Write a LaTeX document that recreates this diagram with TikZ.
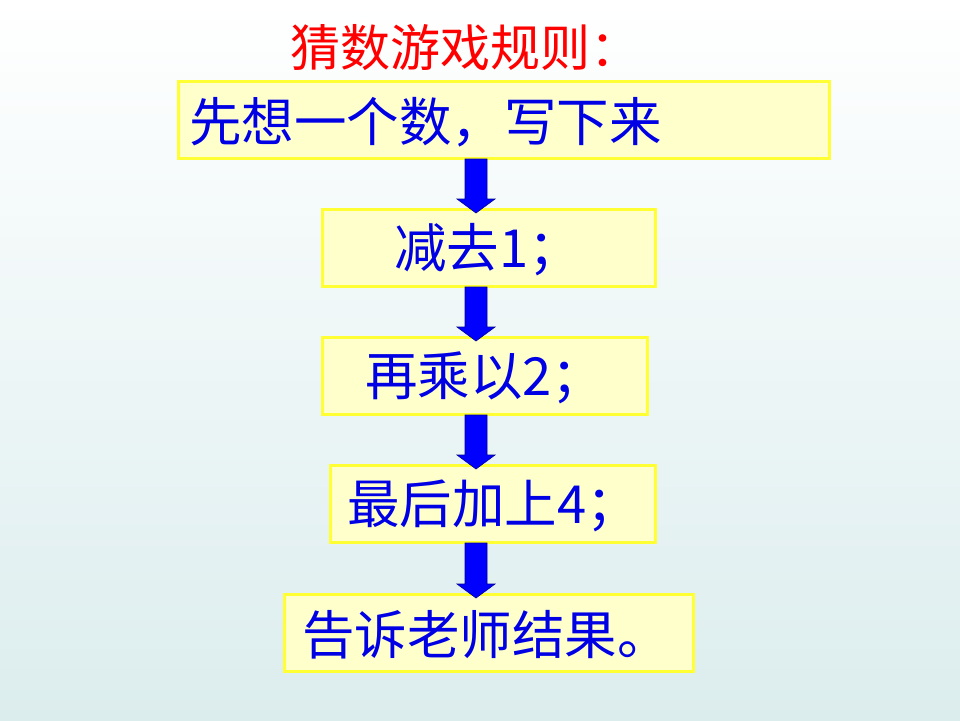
\documentclass[tikz,border=0pt]{standalone}
\usepackage{fontspec}
\newfontfamily\cjk{Noto Sans CJK SC}
\usetikzlibrary{calc}
\definecolor{boxfill}{HTML}{FFFFCC}
\definecolor{boxline}{HTML}{FFFF33}
\definecolor{bgbot}{HTML}{DCEDEE}
\tikzset{
  stepbox/.style={draw=boxline, line width=3pt, fill=boxfill, anchor=north west, inner sep=0pt},
  steptext/.style={font=\cjk\fontsize{52.5}{52.5}\selectfont, text=blue!90!black, anchor=west, inner sep=0pt},
  blockarr/.style={fill=blue, draw=blue!60!black, line width=0.6pt}
}
\begin{document}
\begin{tikzpicture}[x=1pt,y=-1pt]
\shade[top color=white, bottom color=bgbot] (0,0) rectangle (960,720);
\useasboundingbox (0,0) rectangle (960,720);
\node[font=\cjk\fontsize{50}{50}\selectfont, text=red, inner sep=0pt] (title) at (465,48) {猜数游戏规则：};
\node[stepbox, minimum width=651pt, minimum height=77pt] (b1) at (177,80) {};
\node[stepbox, minimum width=333pt, minimum height=77pt] (b2) at (321,208) {};
\node[stepbox, minimum width=325pt, minimum height=77pt] (b3) at (321,336) {};
\node[stepbox, minimum width=325pt, minimum height=77pt] (b4) at (329,464) {};
\node[stepbox, minimum width=409pt, minimum height=77pt] (b5) at (283,593) {};
\node[steptext] (t1) at (189,122) {先想一个数，写下来};
\node[steptext] (t2) at (394,250) {减去1；};
\node[steptext] (t3) at (365,378) {再乘以2；};
\node[steptext] (t4) at (347,506) {最后加上4；};
\node[steptext] (t5) at (302,635) {告诉老师结果。};
\foreach \a/\b in {b1/b2,b2/b3,b3/b4,b4/b5}{
  \path let \p1=(\a.south), \p2=(\b.north) in
    coordinate (s) at (476,\y1+1) coordinate (e) at (476,\y2-5);
  \path[blockarr] let \p1=(s), \p2=(e) in
    (\x1-11,\y1) -- (\x1+11,\y1) -- (\x1+11,\y2+14) -- (\x1+19,\y2+14) -- (\x1,\y2)
    -- (\x1-19,\y2+14) -- (\x1-11,\y2+14) -- cycle;
}
\end{tikzpicture}
\end{document}
